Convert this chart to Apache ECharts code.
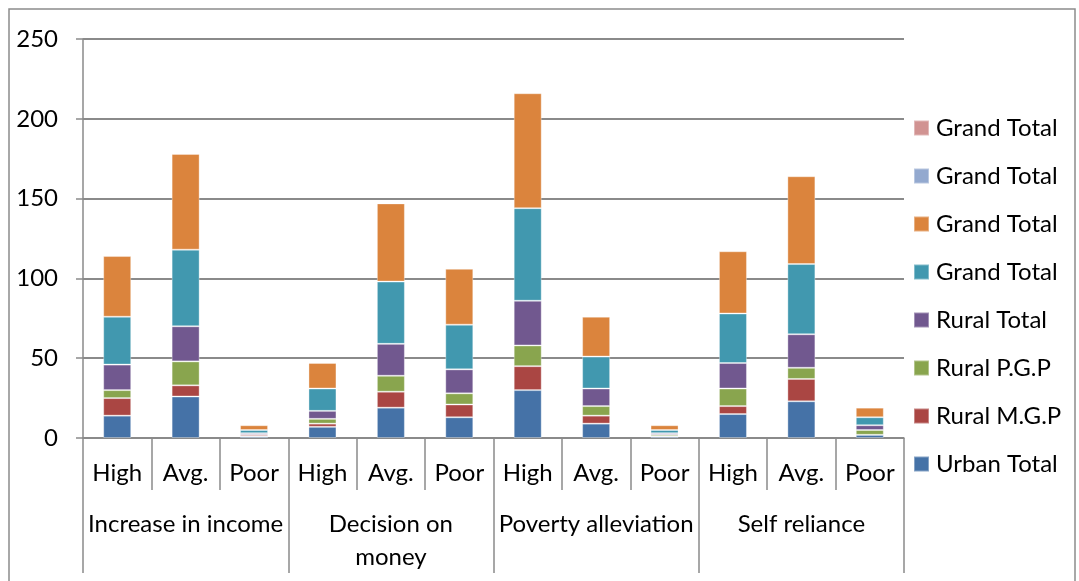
<!DOCTYPE html>
<html>
<head>
<meta charset="utf-8">
<script src="https://cdn.jsdelivr.net/npm/echarts@6/dist/echarts.min.js"></script>
<style>
  html, body { margin: 0; padding: 0; background: #fff; }
  #chart { width: 1079px; height: 581px; }
</style>
</head>
<body>
<div id="chart"></div>
<script>
// Ratings within each aspect
const ratings = ['High', 'Avg.', 'Poor', 'High', 'Avg.', 'Poor', 'High', 'Avg.', 'Poor', 'High', 'Avg.', 'Poor'];
// Aspects (outer category level)
const aspects = ['Increase in income', 'Decision on\nmoney', 'Poverty alleviation', 'Self reliance'];
const yTicks = { min: 0, max: 250, interval: 50 };

// Stacked segment values, bottom to top
const urbanTotal  = [14, 26, 1, 7, 19, 13, 30, 9, 1, 15, 23, 2];
const ruralMGP    = [11, 7, 1, 2, 10, 8, 15, 5, 0, 5, 14, 0];
const ruralPGP    = [5, 15, 0, 3, 10, 7, 13, 6, 1, 11, 7, 3];
const ruralTotal  = [16, 22, 1, 5, 20, 15, 28, 11, 1, 16, 21, 3];
const grandTotalA = [30, 48, 2, 14, 39, 28, 58, 20, 2, 31, 44, 5];
const grandTotalB = [38, 60, 3, 16, 49, 35, 72, 25, 3, 39, 55, 6];
const grandTotalC = [];
const grandTotalD = [];

const seriesDefs = [
  { name: 'Urban Total',   data: urbanTotal,  color: '#4572A7' },
  { name: 'Rural M.G.P',   data: ruralMGP,    color: '#AA4643' },
  { name: 'Rural P.G.P',   data: ruralPGP,    color: '#89A54E' },
  { name: 'Rural Total',   data: ruralTotal,  color: '#71588F' },
  { name: 'Grand Total 1', data: grandTotalA, color: '#4198AF' },
  { name: 'Grand Total 2', data: grandTotalB, color: '#DB843D' },
  { name: 'Grand Total 3', data: grandTotalC, color: '#93A9CF' },
  { name: 'Grand Total 4', data: grandTotalD, color: '#D19392' }
];

const FONT = 'Lato, "Open Sans", sans-serif';
const FS = 24;
const AXIS_GRAY = '#8a8a8a';

const chart = echarts.init(document.getElementById('chart'), null, { renderer: 'canvas' });

chart.setOption({
  animation: false,
  backgroundColor: '#ffffff',
  textStyle: { fontFamily: FONT, color: '#000' },
  grid: { left: 83, right: 175, top: 39, bottom: 143, containLabel: false },
  graphic: [{
    type: 'rect',
    shape: { x: 9, y: 9, width: 1066, height: 600 },
    style: { fill: 'none', stroke: '#8c8c8c', lineWidth: 1.5 },
    silent: true
  }],
  legend: {
    orient: 'vertical',
    left: 908,
    top: 111,
    itemWidth: 15,
    itemHeight: 15,
    itemGap: 24,
    icon: 'rect',
    data: seriesDefs.map(s => s.name).reverse(),
    formatter: name => name.replace(/ \d$/, ''),
    textStyle: { fontFamily: FONT, fontSize: FS, color: '#000', padding: [0, 0, 0, 2] }
  },
  xAxis: [
    {
      type: 'category',
      data: ratings,
      position: 'bottom',
      axisLine: { show: true, lineStyle: { color: AXIS_GRAY, width: 1.5 } },
      axisTick: { show: true, interval: 0, length: 52, lineStyle: { color: AXIS_GRAY, width: 1.5 } },
      axisLabel: { interval: 0, margin: 23, fontFamily: FONT, fontSize: FS, color: '#000' },
      splitLine: { show: false }
    },
    {
      type: 'category',
      data: aspects,
      position: 'bottom',
      axisLine: { show: false },
      axisTick: { show: true, interval: 0, length: 135, lineStyle: { color: AXIS_GRAY, width: 1.5 } },
      axisLabel: { interval: 0, margin: 70, fontFamily: FONT, fontSize: FS, color: '#000', lineHeight: 33 },
      splitLine: { show: false }
    }
  ],
  yAxis: {
    type: 'value',
    min: yTicks.min,
    max: yTicks.max,
    interval: yTicks.interval,
    axisLine: { show: true, lineStyle: { color: AXIS_GRAY, width: 1.5 } },
    axisTick: { show: true, length: 7, lineStyle: { color: AXIS_GRAY, width: 1.5 } },
    axisLabel: { margin: 25, fontFamily: FONT, fontSize: FS, color: '#000' },
    splitLine: { show: true, lineStyle: { color: AXIS_GRAY, width: 2 } }
  },
  series: seriesDefs.map(s => ({
    name: s.name,
    type: 'bar',
    stack: 'total',
    xAxisIndex: 0,
    barWidth: 28,
    data: s.data,
    itemStyle: { color: s.color, borderColor: 'rgba(255,255,255,0.35)', borderWidth: 1 }
  }))
});
</script>
</body>
</html>
